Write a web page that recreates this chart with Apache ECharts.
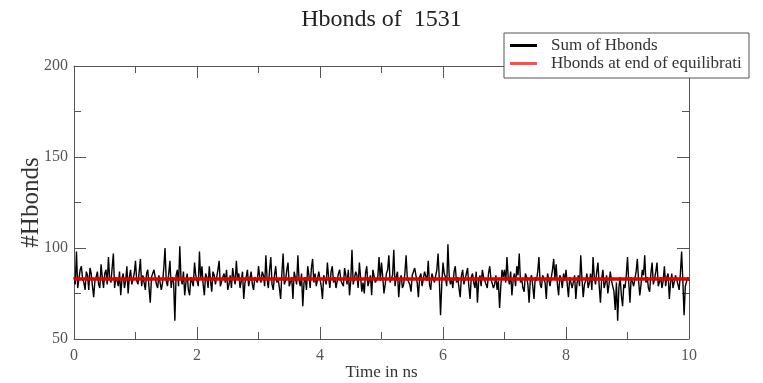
<!DOCTYPE html>
<html>
<head>
<meta charset="utf-8">
<script src="https://cdn.jsdelivr.net/npm/echarts@6/dist/echarts.min.js"></script>
<style>html,body{margin:0;padding:0;background:#fff;}#c{width:763px;height:383px;}</style>
</head>
<body>
<div id="c"></div>
<script>
// ---- data ----
const titleText = 'Hbonds of  1531';
const timeStep = 0.02; // ns between samples
const hbonds = [
  84,80, 98,78, 79,88, 90,83, 81,77, 87,85, 77,89, 86,79, 73,82, 84,87, 80,78, 91,84, 78,86, 88,80, 95,83, 81,89, 97,78, 84,82, 79,87, 74,83, 86,78, 82,90, 75,84, 88,80, 79,86,
  93,82, 80,87, 94,79, 85,81, 77,86, 88,78, 70,84, 83,88, 89,80, 78,85, 86,77, 81,89, 100,82, 79,86, 93,78, 84,81, 60,85, 88,79, 101,83, 80,87, 74,81, 86,77, 74,84, 83,79, 92,85,
  85,79, 98,83, 90,80, 74,86, 84,78, 90,82, 76,87, 85,80, 81,88, 93,79, 79,84, 86,81, 88,77, 80,85, 78,89, 84,80, 93,83, 86,78, 82,87, 72,81, 84,88, 79,83, 87,80, 77,84, 85,81,
  90,84, 81,87, 85,79, 96,83, 78,88, 95,80, 77,85, 90,81, 83,78, 72,86, 97,80, 82,88, 92,79, 80,84, 72,87, 86,80, 96,82, 79,86, 68,81, 84,77, 90,85, 78,89, 94,81, 86,79, 80,87,
  83,79, 72,85, 86,80, 92,84, 78,87, 90,81, 84,78, 77,86, 88,82, 81,79, 89,85, 80,88, 74,82, 99,80, 83,87, 85,78, 92,84, 76,81, 75,86, 90,79, 82,85, 74,88, 88,81, 80,84, 95,82,
  92,84, 75,80, 86,88, 96,81, 80,85, 99,79, 84,87, 73,82, 85,78, 80,86, 96,83, 82,80, 76,85, 84,89, 90,81, 73,84, 86,79, 79,87, 88,82, 93,80, 77,86, 85,81, 80,88, 97,83, 63,80,
  92,86, 84,79, 102,85, 80,83, 78,87, 90,81, 84,78, 73,85, 88,80, 81,86, 89,79, 72,84, 86,81, 78,87, 70,82, 85,79, 88,84, 82,80, 78,86, 90,83, 84,78, 80,85, 77,82, 67,79, 88,84,
  88,81, 95,84, 80,87, 74,82, 86,79, 90,85, 97,81, 83,78, 76,86, 84,80, 70,83, 85,79, 72,84, 82,87, 95,80, 78,85, 84,81, 72,86, 86,79, 80,88, 94,83, 91,80, 74,85, 83,78, 86,82,
  88,80, 73,84, 84,78, 79,85, 72,81, 85,79, 96,83, 73,80, 82,86, 78,81, 86,77, 95,84, 80,87, 92,79, 70,83, 88,78, 81,85, 75,80, 87,82, 79,76, 66,81, 60,78, 84,74, 68,80, 78,85,
  95,81, 70,84, 85,79, 79,87, 94,82, 74,80, 88,85, 96,81, 84,78, 76,86, 92,80, 83,87, 92,79, 80,84, 78,82, 90,79, 84,86, 72,81, 86,78, 79,85, 84,80, 77,86, 98,82, 63,79, 78,84, 82
];
const eqTimes = [0, 10];
const eqValues = [83, 83];
const seriesNames = ['Sum of Hbonds', 'Hbonds at end of equilibration'];

// ---- chart ----
const sumData = hbonds.map((v, i) => [+(i * timeStep).toFixed(2), v]);
const eqData = eqTimes.map((t, i) => [t, eqValues[i]]);

const serif = 'Liberation Serif, Times New Roman, serif';
const frame = '#555';
function axisCommon(extra) {
  return Object.assign({
    type: 'value',
    axisLine: { show: true, onZero: false, lineStyle: { color: frame, width: 1 } },
    axisTick: { show: true, inside: true, length: 12, lineStyle: { color: frame } },
    minorTick: { show: true, splitNumber: 2, length: 7, lineStyle: { color: frame } },
    splitLine: { show: false },
    axisLabel: { fontFamily: serif, fontSize: 16, color: '#555' }
  }, extra);
}

const chart = echarts.init(document.getElementById('c'), null, { renderer: 'canvas' });
chart.setOption({
  animation: false,
  backgroundColor: '#fff',
  title: {
    text: titleText,
    left: 'center',
    top: 3,
    textStyle: { fontFamily: serif, fontSize: 24, fontWeight: 'normal', color: '#222' }
  },
  legend: {
    orient: 'vertical',
    left: 504,
    top: 33,
    padding: [4, 0, 6, 6],
    itemGap: 1,
    itemWidth: 36,
    itemHeight: 17,
    backgroundColor: '#fff',
    borderColor: frame,
    borderWidth: 1,
    icon: 'path://M0,0 L27,0 L27,3 L0,3 Z M36,0 L36,3',
    textStyle: { fontFamily: serif, fontSize: 17, lineHeight: 17, color: '#333', width: 198, overflow: 'truncate', ellipsis: '' },
    data: [
      { name: seriesNames[0], itemStyle: { color: '#000' } },
      { name: seriesNames[1], itemStyle: { color: '#ff5050' } }
    ],
    z: 10
  },
  grid: { left: 74, right: 74, top: 66, bottom: 44, containLabel: false, outerBoundsMode: 'none' },
  xAxis: [
    axisCommon({
      min: 0, max: 10, interval: 2, position: 'bottom',
      name: 'Time in ns', nameLocation: 'middle', nameGap: 25, nameMoveOverlap: false,
      nameTextStyle: { fontFamily: serif, fontSize: 17, color: '#333' },
      axisLabel: { fontFamily: serif, fontSize: 16, color: '#555', margin: 9 }
    }),
    axisCommon({
      min: 0, max: 10, interval: 2, position: 'top',
      axisLabel: { show: false }
    })
  ],
  yAxis: [
    axisCommon({
      min: 50, max: 200, interval: 50, position: 'left',
      name: '#Hbonds', nameLocation: 'middle', nameGap: 30, nameMoveOverlap: false,
      nameTextStyle: { fontFamily: serif, fontSize: 25, color: '#333' },
      axisLabel: { fontFamily: serif, fontSize: 16, color: '#555', margin: 6 }
    }),
    axisCommon({
      min: 50, max: 200, interval: 50, position: 'right',
      axisLabel: { show: false }
    })
  ],
  series: [
    {
      name: seriesNames[0], type: 'line', xAxisIndex: 0, yAxisIndex: 0,
      data: sumData, showSymbol: false, symbol: 'none',
      lineStyle: { color: '#000', width: 1.4 }, itemStyle: { color: '#000' }, z: 2
    },
    {
      name: seriesNames[1], type: 'line', xAxisIndex: 0, yAxisIndex: 0,
      data: eqData, showSymbol: false, symbol: 'none',
      lineStyle: { color: '#e00000', width: 3.5 }, itemStyle: { color: '#ff5050' }, z: 3
    }
  ]
});
</script>
</body>
</html>
